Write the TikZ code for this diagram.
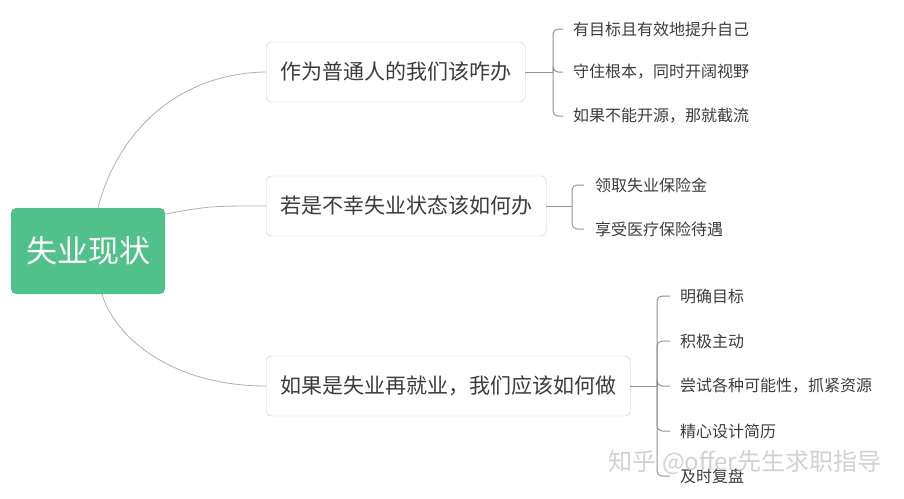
\documentclass[tikz,border=0pt]{standalone}
\usepackage{fontspec}
\setmainfont{Noto Sans CJK SC}
\usetikzlibrary{positioning}
\definecolor{rootgreen}{RGB}{80,193,138}
\definecolor{boxgray}{RGB}{200,200,200}
\definecolor{linegray}{RGB}{175,175,175}
\definecolor{textgray}{RGB}{60,60,60}

\begin{document}
\begin{tikzpicture}[
            x=1pt, y=-1pt,
            root/.style={
                fill=rootgreen,
                rounded corners=5pt,
                text=white,
                minimum width=154pt,
                minimum height=86pt,
                font=\fontsize{31}{36}\selectfont
            },
            topic/.style={
                draw=boxgray,
                fill=white,
                rounded corners=5pt,
                anchor=west,
                minimum height=60pt,
                inner xsep=14pt,
                text=textgray,
                font=\fontsize{21}{25}\selectfont
            },
            leaf/.style={anchor=west,inner xsep=0pt,text=textgray,font=\fontsize{16}{19}\selectfont},
            curve/.style={draw=linegray,line width=0.8pt},
            link/.style={draw=gray!85,line width=1pt,rounded corners=5pt},
            watermark/.style={text=gray!40,opacity=0.9,font=\fontsize{24}{28}\selectfont}
        ]
            \useasboundingbox (0,0) rectangle (904,498);

            \node[root] (root) at (88,251) {失业现状};

            \node[topic] (t1) at (266,72) {作为普通人的我们该咋办};
            \node[topic] (t2) at (266,206) {若是不幸失业状态该如何办};
            \node[topic] (t3) at (266,386) {如果是失业再就业，我们应该如何做};

            % root to topics
            \draw[curve] ([xshift=10pt]root.north) .. controls (118,130) and (180,73) .. (t1.west);
            \draw[curve] ([yshift=37pt]root.east) .. controls (210,206) .. (t2.west);
            \draw[curve] ([xshift=14pt]root.south) .. controls (116,340) and (175,386) .. (t3.west);

            % topic 1
            \coordinate (b1) at (553,72);
            \draw[link] (t1.east) -- (b1);
            \foreach \y/\txt/\nm in {29/有目标且有效地提升自己/a1,72/守住根本，同时开阔视野/a2,116/如果不能开源，那就截流/a3}{
                \node[leaf] (\nm) at (573,\y) {\txt};
                \draw[link] (b1) |- ([xshift=-10pt]\nm.west);
            }

            % topic 2
            \coordinate (b2) at (572,206);
            \draw[link] (t2.east) -- (b2);
            \foreach \y/\txt/\nm in {185/领取失业保险金/c1,229/享受医疗保险待遇/c2}{
                \node[leaf] (\nm) at (595,\y) {\txt};
                \draw[link] (b2) |- ([xshift=-11pt]\nm.west);
            }

            % topic 3
            \coordinate (b3) at (657,386);
            \draw[link] (t3.east) -- (b3);
            \foreach \y/\txt/\nm in {296/明确目标/d1,341/积极主动/d2,386/尝试各种可能性，抓紧资源/d3,431/精心设计简历/d4,476/及时复盘/d5}{
                \node[leaf] (\nm) at (680,\y) {\txt};
                \draw[link] (b3) |- ([xshift=-10pt]\nm.west);
            }

            \node[watermark] (wm) at (745,462) {知乎 @offer先生求职指导};
        \end{tikzpicture}
\end{document}
